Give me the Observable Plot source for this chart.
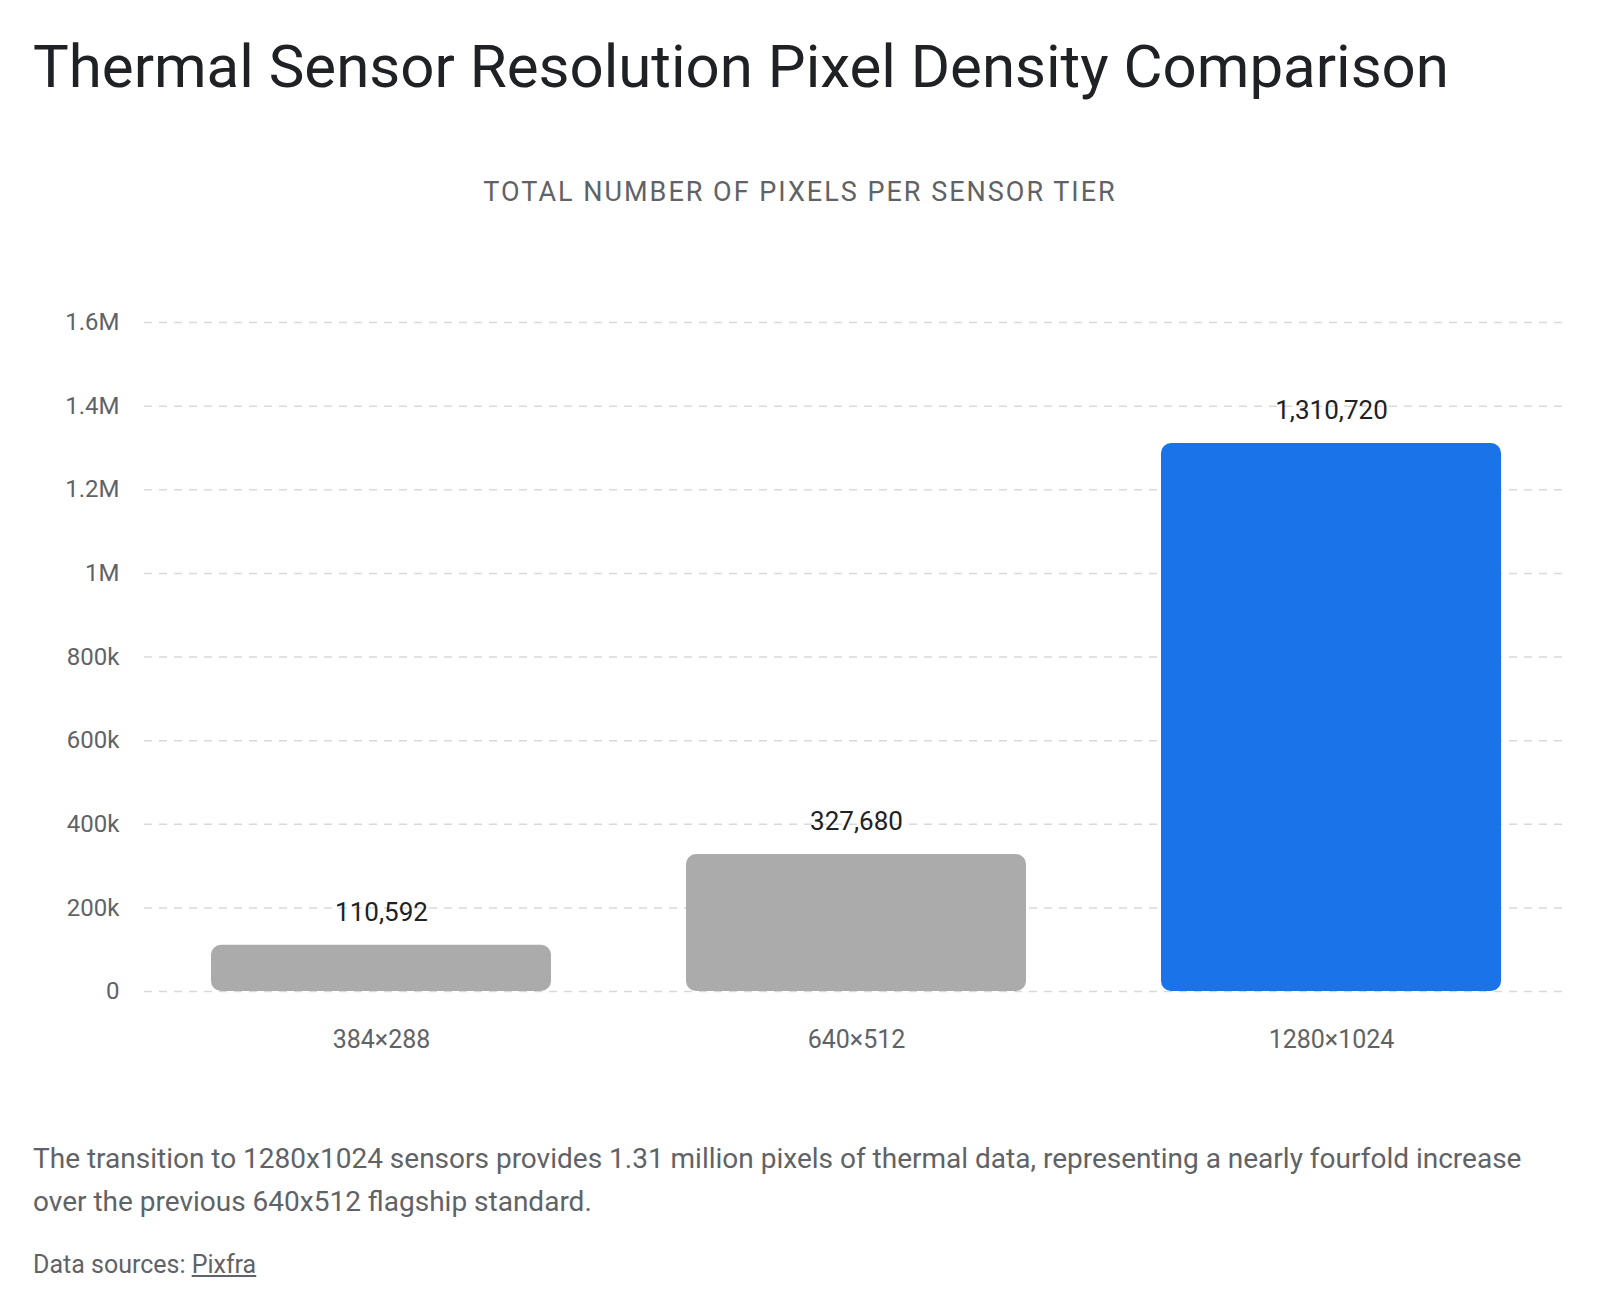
<!DOCTYPE html>
<html>
<head>
<meta charset="utf-8">
<script src="https://cdn.jsdelivr.net/npm/d3@7"></script>
<script src="https://cdn.jsdelivr.net/npm/@observablehq/plot@0.6"></script>
<style>
  html, body { margin: 0; padding: 0; background: #fff; }
  body { width: 1600px; height: 1314px; position: relative; font-family: Roboto, "Open Sans", sans-serif; overflow: hidden; }
  .abs { position: absolute; }
  #title { left: 33px; top: 32px; font-size: 60px; line-height: 70px; color: #202124; font-weight: 400; white-space: nowrap; }
  #subtitle { left: 0; width: 1600px; text-align: center; top: 174px; font-size: 27px; line-height: 36px; letter-spacing: 2px; color: #5f6368; }
  #chart { left: 0; top: 260px; }
  #caption { left: 33px; top: 1137px; width: 1530px; font-size: 28px; line-height: 43px; color: #5f6368; }
  #source { left: 33px; top: 1250px; font-size: 25px; line-height: 30px; color: #5f6368; }
  #source u { text-decoration: underline; }
</style>
</head>
<body>
<div id="title" class="abs">Thermal Sensor Resolution Pixel Density Comparison</div>
<div id="subtitle" class="abs">TOTAL NUMBER OF PIXELS PER SENSOR TIER</div>
<div id="chart" class="abs"></div>
<div id="caption" class="abs">The transition to 1280x1024 sensors provides 1.31 million pixels of thermal data, representing a nearly fourfold increase over the previous 640x512 flagship standard.</div>
<div id="source" class="abs">Data sources: <u>Pixfra</u></div>
<script>
const categories = ["384×288", "640×512", "1280×1024"];
const pixels = [110592, 327680, 1310720];
const barColors = ["#ababab", "#ababab", "#1a73e8"];
const yTicks = [0, 200000, 400000, 600000, 800000, 1000000, 1200000, 1400000, 1600000];

const data = categories.map((c, i) => ({ sensor: c, value: pixels[i], color: barColors[i] }));

const chart = Plot.plot({
  width: 1600,
  height: 820,
  marginTop: 62,
  marginBottom: 89,
  marginLeft: 144,
  marginRight: 33,
  style: { fontFamily: "Roboto, 'Open Sans', sans-serif", background: "transparent" },
  x: { domain: categories, paddingInner: 0.285, paddingOuter: 0.14, label: null },
  y: { domain: [0, 1600000], ticks: yTicks, label: null, tickFormat: d3.format("~s") },
  marks: [
    Plot.gridY(yTicks, { stroke: "#d9d9d9", strokeOpacity: 1, strokeDasharray: "8,7", strokeWidth: 1.5 }),
    Plot.barY(data, { x: "sensor", y: "value", fill: "color", rx: 10 }),
    Plot.text(data, { x: "sensor", y: "value", text: d => d3.format(",")(d.value), dy: -33, fontSize: 26, fill: "#202124" }),
    Plot.axisY({ ticks: yTicks, tickSize: 0, tickPadding: 25, fontSize: 24, color: "#5f6368", tickFormat: d3.format("~s"), label: null }),
    Plot.axisX({ tickSize: 0, tickPadding: 39, fontSize: 25, color: "#5f6368", label: null })
  ]
});
document.getElementById("chart").appendChild(chart);
</script>
</body>
</html>
